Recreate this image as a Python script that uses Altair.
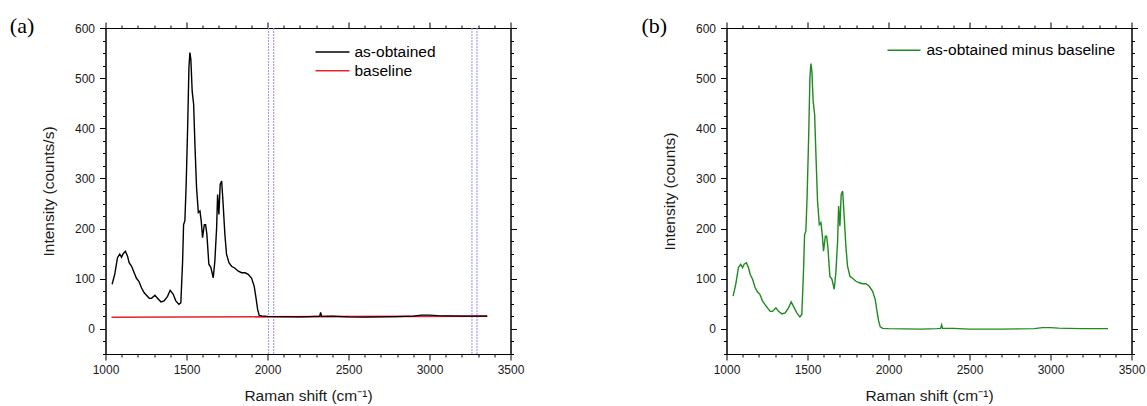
import altair as alt
import pandas as pd

# Raman shift positions (cm^-1)
shift = [1041,1057,1074,1088,1099,1109,1123,1136,1146,1161,1177,1191,1206,1222,1239,1253,1270,1284,
         1305,1321,1342,1362,1383,1399,1418,1434,1453,1465,1476,1482,1490,1498,1507,1515,1521,1527,
         1535,1544,1552,1562,1573,1583,1591,1599,1610,1618,1626,1638,1651,1665,1675,1686,1692,1700,
         1708,1717,1725,1737,1747,1762,1778,1799,1820,1840,1861,1881,1902,1918,1929,1939,1949,1964,
         2000,2100,2200,2300,2322,2328,2334,2400,2500,2600,2700,2800,2900,2950,3000,3050,3100,3200,3300,3355]

# (a) as-obtained intensity (counts/s)
as_obtained = [89,109,142,149,143,150,155,145,132,125,112,101,95,82,72,67,61,61,
               67,61,54,56,65,77,69,56,49,52,135,208,216,288,401,521,551,537,
               474,448,368,282,232,235,215,182,208,208,188,129,122,102,135,202,268,228,
               288,295,255,188,149,132,125,121,115,112,112,109,101,85,62,39,27,26,
               25,24.5,24,25,25,33,25,25.5,24,23.5,24,24.5,25.5,27.5,27.5,26.5,26,25.5,25.5,25.5]

# (a) baseline
baseline_x = [1037, 3358]
baseline_y = [23.2, 25.6]

# (a) marked regions (vertical lines)
marker_x = [2006, 2038, 3262, 3293]

# (b) as-obtained minus baseline (counts)
corrected = [65.5,89,123,129,122,129,132,122,109,99,82,74,69,56,48,42,35,35,
             42,35,30,32,42,54,42,32,24,29,122,188,195,268,381,501,529,514,
             454,428,348,255,208,212,188,155,185,185,162,105,99,79,112,175,245,205,
             268,275,232,165,125,105,101,95,92,90,90,85,75,59,35,16,4,1,
             0.5,0,-0.5,0.5,1,8,1,1,-0.5,-0.5,-0.5,0,0.5,2.5,2.5,1.5,1,0.5,0.5,0.5]

x_ticks = list(range(1000, 3501, 100))
y_ticks = list(range(-50, 601, 25))

FONT = "Liberation Sans"
W, H = 405, 326

xs = alt.Scale(domain=[1000, 3500], nice=False, zero=False)
ys = alt.Scale(domain=[-50, 600], nice=False, zero=False)

x_tick_size = {"condition": {"test": "datum.value % 500 === 0", "value": 6}, "value": 3}
y_tick_size = {"condition": {"test": "datum.value % 100 === 0", "value": 6}, "value": 3}

XTITLE = "Raman shift (cm\u207b\u00b9)"


def x_axis(orient, show):
    if show:
        return alt.Axis(orient=orient, values=x_ticks, tickSize=x_tick_size,
                        labelExpr="datum.value % 500 === 0 ? datum.value : ''",
                        title=XTITLE, titlePadding=13, labelPadding=4, grid=False,
                        labelFlush=False, labelOverlap=False)
    return alt.Axis(orient=orient, values=x_ticks, tickSize=x_tick_size, labels=False,
                    title=None, grid=False)


def y_axis(orient, show, title=None):
    if show:
        return alt.Axis(orient=orient, values=y_ticks, tickSize=y_tick_size,
                        labelExpr="datum.value % 100 === 0 ? datum.value : ''",
                        title=title, titlePadding=18, labelPadding=5, grid=False,
                        labelFlush=False, labelOverlap=False)
    return alt.Axis(orient=orient, values=y_ticks, tickSize=y_tick_size, labels=False,
                    title=None, grid=False)


df_a = pd.DataFrame({"shift": shift, "val": as_obtained})
df_base = pd.DataFrame({"shift": baseline_x, "val": baseline_y})
df_mark = pd.DataFrame({"shift": marker_x})
df_b = pd.DataFrame({"shift": shift, "val": corrected})
one = pd.DataFrame({"k": [0]})

RED = "#e3242f"
GREEN = "#1f8a1f"
BLUE = "#a3a3ee"


def leg_line(color, sw, x1, x2, y):
    return alt.Chart(one).mark_rule(color=color, strokeWidth=sw).encode(
        x=alt.value(x1), x2=alt.value(x2), y=alt.value(y))


def label(text, x, y, font=FONT, size=15.5):
    return alt.Chart(one).mark_text(text=text, font=font, fontSize=size, align="left",
                                    baseline="middle", color="black", fontWeight="normal").encode(
        x=alt.value(x), y=alt.value(y))


# ---- panel (a)
base_line = alt.Chart(df_base).mark_line(color=RED, strokeWidth=1.6).encode(
    x=alt.X("shift:Q", scale=xs, axis=x_axis("top", False)),
    y=alt.Y("val:Q", scale=ys, axis=y_axis("right", False)),
)
markers = alt.Chart(df_mark).mark_rule(color=BLUE, strokeWidth=1.2, strokeDash=[2, 1]).encode(
    x=alt.X("shift:Q", scale=xs, axis=None)
)
raw_line = alt.Chart(df_a).mark_line(color="black", strokeWidth=1.4).encode(
    x=alt.X("shift:Q", scale=xs, axis=x_axis("bottom", True)),
    y=alt.Y("val:Q", scale=ys, axis=y_axis("left", True, "Intensity (counts/s)")),
)

panel_a = alt.layer(
    markers, base_line, raw_line,
    leg_line("black", 1.4, 210, 244, 24), label("as-obtained", 249, 24),
    leg_line(RED, 1.6, 210, 244, 42.7), label("baseline", 249, 42.7),
    label("(a)", -95.7, -2.3, font="Liberation Serif", size=22),
).resolve_axis(x="independent", y="independent").properties(width=W, height=H)

# ---- panel (b)
frame_b = alt.Chart(df_b).mark_line(color=GREEN, strokeWidth=1.4, opacity=0).encode(
    x=alt.X("shift:Q", scale=xs, axis=x_axis("top", False)),
    y=alt.Y("val:Q", scale=ys, axis=y_axis("right", False)),
)
corr_line = alt.Chart(df_b).mark_line(color=GREEN, strokeWidth=1.4).encode(
    x=alt.X("shift:Q", scale=xs, axis=x_axis("bottom", True)),
    y=alt.Y("val:Q", scale=ys, axis=y_axis("left", True, "Intensity (counts)")),
)

panel_b = alt.layer(
    frame_b, corr_line,
    leg_line(GREEN, 1.4, 161, 194, 22.2), label("as-obtained minus baseline", 200, 22.2),
    label("(b)", -85, -2.3, font="Liberation Serif", size=22),
).resolve_axis(x="independent", y="independent").properties(width=W, height=H)

chart = alt.hconcat(panel_a, panel_b, spacing=216, bounds="flush").properties(
    padding={"left": 8.5, "top": 14, "right": 0, "bottom": 0},
    background="white",
).configure_view(stroke="black", strokeWidth=1).configure_axis(
    domainColor="black", domainWidth=1, tickColor="black", tickWidth=1,
    labelFont=FONT, labelFontSize=12, labelColor="#1a1a1a",
    titleFont=FONT, titleFontSize=15.5, titleFontWeight="normal", titleColor="#1a1a1a",
)

chart.save("out.html", embed_options={"renderer": "svg", "actions": False})
